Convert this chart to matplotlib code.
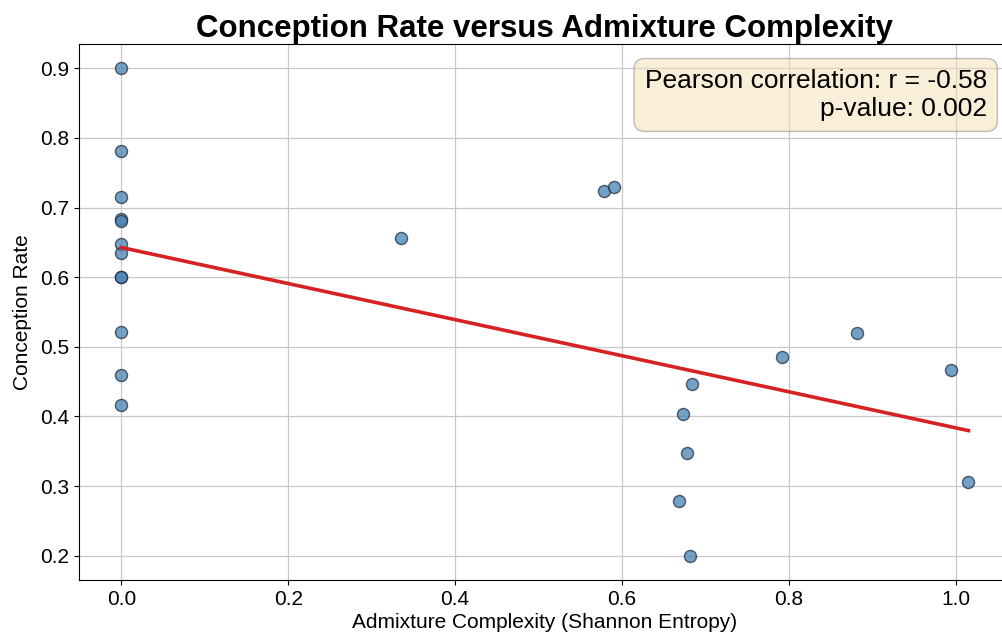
import numpy as np
import matplotlib.pyplot as plt

plt.rcParams['font.family'] = ['Liberation Sans', 'DejaVu Sans']

# valeurs
entropie = [0.0, 0.0, 0.0, 0.0, 0.0, 0.0, 0.0, 0.0, 0.0, 0.0, 0.0, 0.0,
            0.335, 0.578, 0.590, 0.684, 0.673, 0.678, 0.668, 0.681,
            0.792, 0.882, 0.994, 1.015]
conception = [0.900, 0.781, 0.715, 0.684, 0.680, 0.648, 0.635, 0.600, 0.600, 0.521, 0.459, 0.416,
              0.656, 0.724, 0.729, 0.447, 0.403, 0.348, 0.278, 0.200,
              0.485, 0.520, 0.467, 0.306]
texte_r = "Pearson correlation: r = -0.58"
texte_p = "p-value: 0.002"

x = np.array(entropie)
y = np.array(conception)

fig = plt.figure(figsize=(10.03, 6.36), dpi=100)
ax = fig.add_axes([0.0785, 0.088, 0.9295, 0.843])

ax.scatter(x, y, s=75, color='steelblue', alpha=0.75, edgecolor='#1f2d3d', linewidth=1, zorder=3)

# droite de regression
pente, origine = np.polyfit(x, y, 1)
xs = np.array([x.min(), x.max()])
ax.plot(xs, pente * xs + origine, color='#d62222', linewidth=2.6, zorder=4)

ax.set_xlim(-0.051, 1.066)
ax.set_ylim(0.165, 0.935)
ax.grid(True, color='#c8c8c8', linewidth=0.9)
ax.set_axisbelow(True)
ax.spines['right'].set_visible(False)

ax.set_title("Conception Rate versus Admixture Complexity", fontsize=22.5, fontweight='bold', pad=5)
ax.set_xlabel("Admixture Complexity (Shannon Entropy)", fontsize=15, labelpad=3)
ax.set_ylabel("Conception Rate", fontsize=15, labelpad=6)
ax.tick_params(labelsize=15)

ax.text(0.974, 0.953, texte_r + "\n" + texte_p, transform=ax.transAxes, fontsize=19,
        ha='right', va='top', multialignment='right', linespacing=1.2,
        bbox=dict(boxstyle='round,pad=0.4', facecolor='wheat', alpha=0.5, edgecolor='#808080'))

plt.savefig("out.png", dpi=100)
